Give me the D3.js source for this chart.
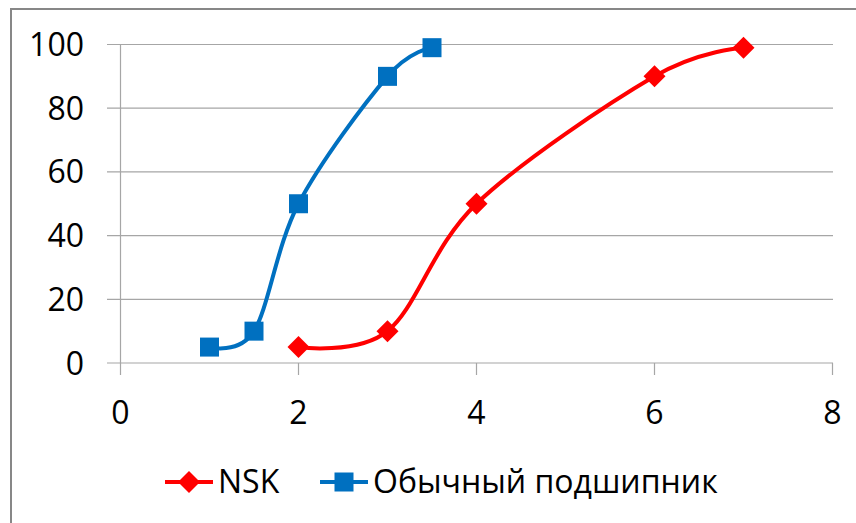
<!DOCTYPE html>
<html>
<head>
<meta charset="utf-8">
<script src="https://cdn.jsdelivr.net/npm/d3@7"></script>
<style>
  body { margin: 0; background: #fff; }
  text { font-family: "Open Sans", "DejaVu Sans", sans-serif; fill: #000; }
</style>
</head>
<body>
<div id="chart"></div>
<script>
var nsk_x = [2, 3, 4, 6, 7];
var nsk_y = [5, 10, 50, 90, 99];
var plain_x = [1, 1.5, 2, 3, 3.5];
var plain_y = [5, 10, 50, 90, 99];
var x_ticks = [0, 2, 4, 6, 8];
var y_ticks = [0, 20, 40, 60, 80, 100];
var series_names = ["NSK", "Обычный подшипник"];

var width = 856, height = 523;
var svg = d3.select("#chart").append("svg")
    .attr("width", width)
    .attr("height", height);

// chart frame
svg.append("rect")
    .attr("x", 11).attr("y", 9)
    .attr("width", 900).attr("height", 600)
    .attr("fill", "none")
    .attr("stroke", "#878787")
    .attr("stroke-width", 2);

var x = d3.scaleLinear().domain([0, 8]).range([120.5, 832.5]);
var y = d3.scaleLinear().domain([0, 100]).range([363, 44.5]);

// gridlines
svg.append("g").selectAll("line")
    .data(y_ticks)
    .enter().append("line")
    .attr("x1", 107).attr("x2", 833)
    .attr("y1", d => y(d)).attr("y2", d => y(d))
    .attr("stroke", "#a6a6a6")
    .attr("stroke-width", 1.2);

// y axis line
svg.append("line")
    .attr("x1", x(0)).attr("x2", x(0))
    .attr("y1", y(100)).attr("y2", y(0))
    .attr("stroke", "#a6a6a6").attr("stroke-width", 1.2);

// x axis ticks
svg.append("g").selectAll("line")
    .data(x_ticks)
    .enter().append("line")
    .attr("x1", d => x(d)).attr("x2", d => x(d))
    .attr("y1", y(0)).attr("y2", y(0) + 12)
    .attr("stroke", "#a6a6a6").attr("stroke-width", 1.2);

// tick labels
svg.append("g").selectAll("text")
    .data(y_ticks)
    .enter().append("text")
    .attr("x", 84)
    .attr("y", d => y(d))
    .attr("dy", "0.36em")
    .attr("text-anchor", "end")
    .style("font-size", "32px")
    .text(d => d);

svg.append("g").selectAll("text")
    .data(x_ticks)
    .enter().append("text")
    .attr("x", d => x(d))
    .attr("y", 424)
    .attr("text-anchor", "middle")
    .style("font-size", "32px")
    .text(d => d);

var line = d3.line()
    .x(d => x(d[0]))
    .y(d => y(d[1]))
    .curve(d3.curveCardinal.tension(0));

var series = [
    { name: series_names[0], color: "#ff0000", symbol: "diamond", pts: d3.zip(nsk_x, nsk_y) },
    { name: series_names[1], color: "#0070c0", symbol: "square", pts: d3.zip(plain_x, plain_y) }
];

function drawMarker(g, s, cx, cy) {
    if (s.symbol === "square") {
        g.append("rect")
            .attr("x", cx - 9.5).attr("y", cy - 9.5)
            .attr("width", 19).attr("height", 19)
            .attr("fill", s.color);
    } else {
        g.append("path")
            .attr("d", "M" + cx + "," + (cy - 11) + "L" + (cx + 11) + "," + cy +
                "L" + cx + "," + (cy + 11) + "L" + (cx - 11) + "," + cy + "Z")
            .attr("fill", s.color);
    }
}

series.forEach(function (s) {
    svg.append("path")
        .datum(s.pts)
        .attr("d", line)
        .attr("fill", "none")
        .attr("stroke", s.color)
        .attr("stroke-width", 4)
        .attr("stroke-linejoin", "round");
    var g = svg.append("g");
    s.pts.forEach(function (p) { drawMarker(g, s, x(p[0]), y(p[1])); });
});

// legend
var legend_x = [165, 320];
series.forEach(function (s, i) {
    var lx = legend_x[i];
    var g = svg.append("g");
    g.append("line")
        .attr("x1", lx).attr("x2", lx + 48)
        .attr("y1", 482).attr("y2", 482)
        .attr("stroke", s.color).attr("stroke-width", 4);
    drawMarker(g, s, lx + 24, 482);
    g.append("text")
        .attr("x", lx + 53)
        .attr("y", 493)
        .style("font-size", "32px")
        .text(s.name);
});
</script>
</body>
</html>
